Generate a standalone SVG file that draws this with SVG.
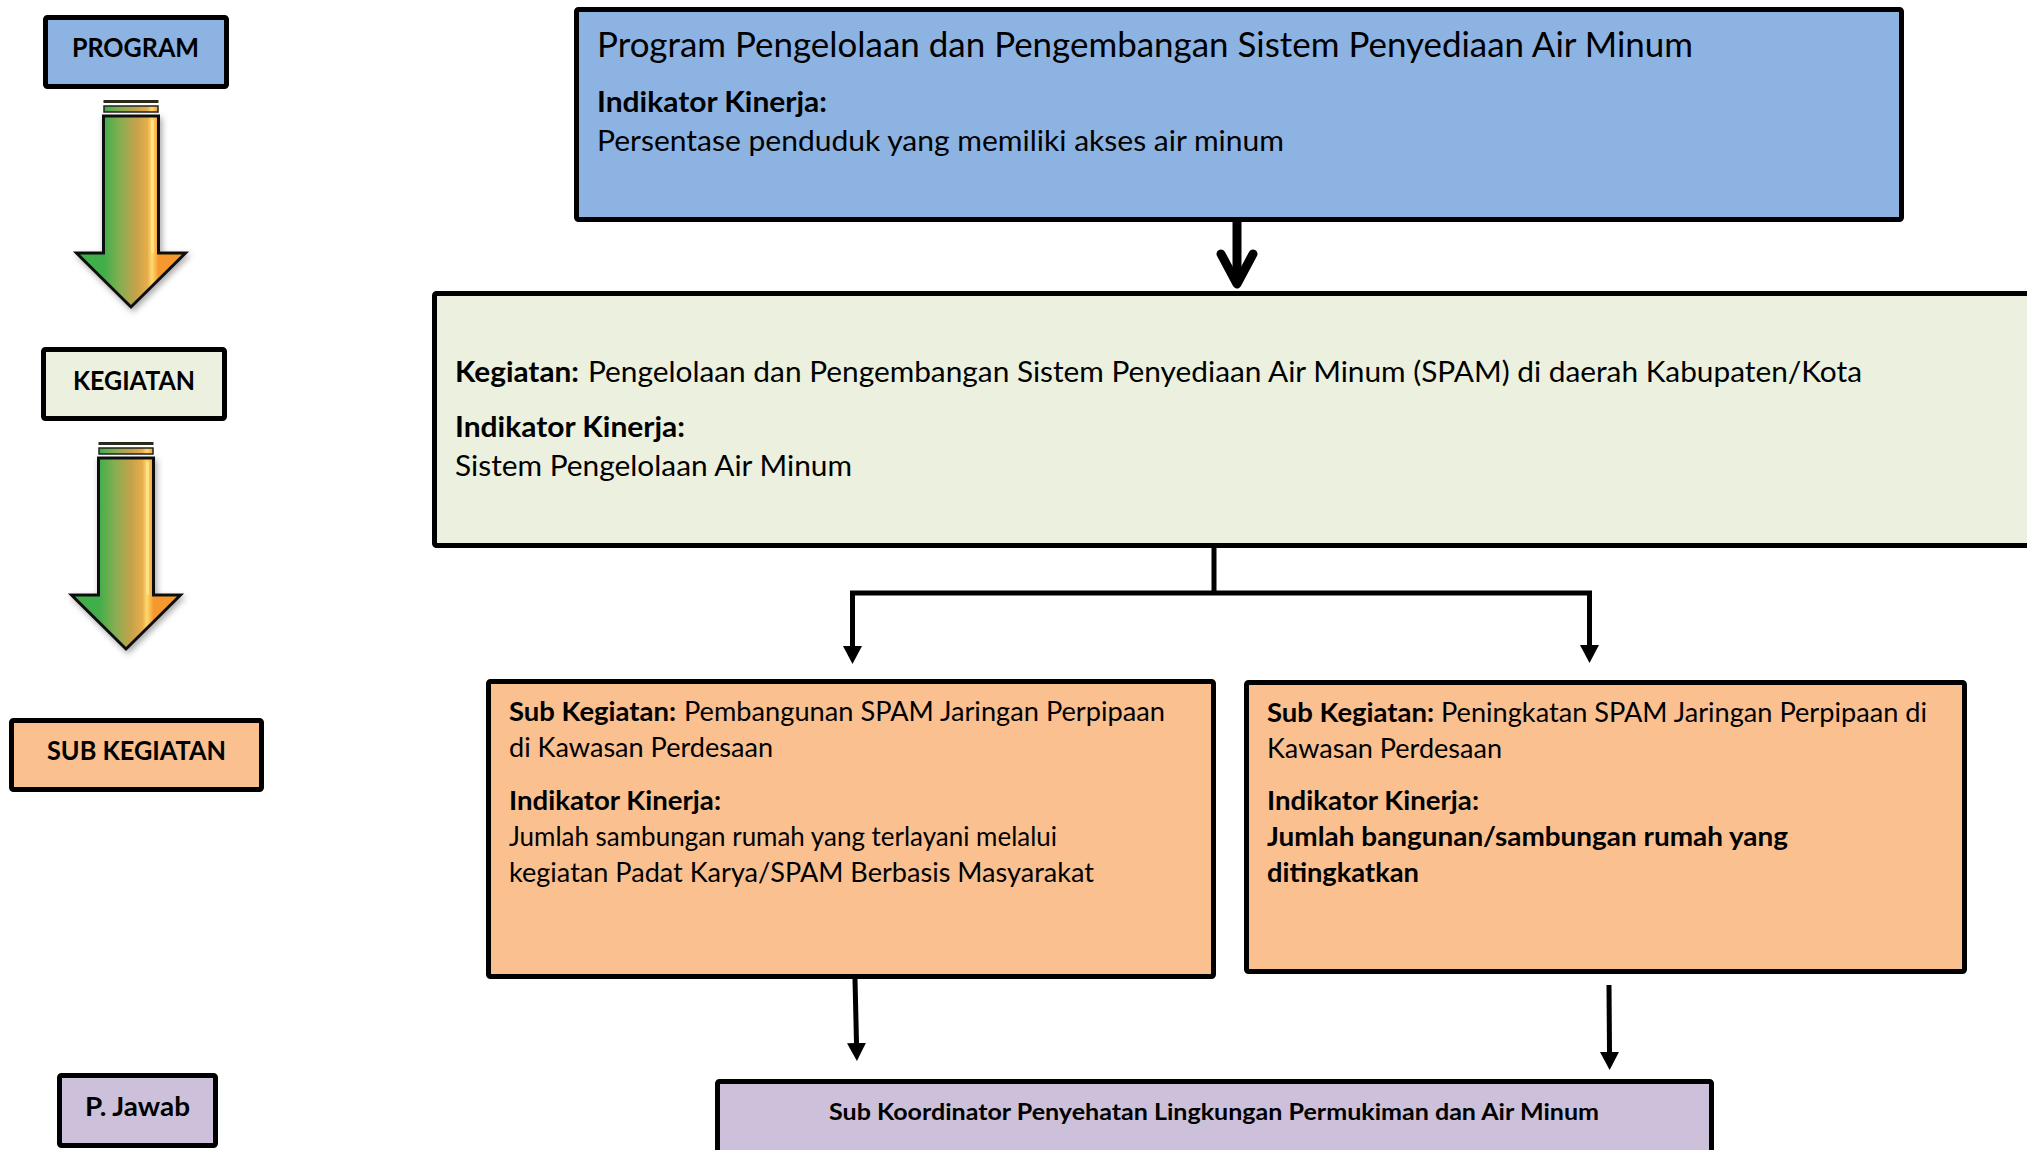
<svg xmlns="http://www.w3.org/2000/svg" width="2027" height="1150" viewBox="0 0 2027 1150">
<defs>
<style>
.box{stroke:#000;stroke-width:5;stroke-linejoin:round}
.blue{fill:#8DB3E2}.green{fill:#EBF1DE}.orange{fill:#FAC090}.purple{fill:#CCC0DA}
.t{font-family:Lato,"Open Sans",sans-serif;fill:#000}
.b{font-family:Lato,"Open Sans",sans-serif;font-weight:bold;fill:#000}
.con{fill:none;stroke:#000;stroke-width:5}
</style>
<linearGradient id="ag" gradientUnits="userSpaceOnUse" x1="0" y1="0" x2="55" y2="0">
<stop offset="0" stop-color="#3FAE4A"/>
<stop offset="0.3" stop-color="#86AE52"/>
<stop offset="0.6" stop-color="#C6A24B"/>
<stop offset="0.8" stop-color="#E7AE4C"/>
<stop offset="0.88" stop-color="#FFDA6E"/>
<stop offset="1" stop-color="#F5982F"/>
</linearGradient>
<filter id="sh" x="-30%" y="-10%" width="160%" height="130%">
<feDropShadow dx="2" dy="3" stdDeviation="3" flood-color="#000" flood-opacity="0.35"/>
</filter>
<marker id="ah" markerUnits="userSpaceOnUse" viewBox="0 0 18 19" refX="0" refY="9.5" markerWidth="18" markerHeight="19" orient="auto">
<path d="M0,0 L18,9.5 L0,19 z" fill="#000"/>
</marker>
<g id="bigArrow">
<rect x="0" y="0" width="55" height="3" fill="#2a2a1a"/>
<rect x="0.5" y="6" width="54" height="6" fill="url(#ag)" stroke="#222" stroke-width="1.5"/>
<path d="M0,16 H55 V153 H82 L27.5,207 L-27,153 H0 Z" fill="url(#ag)" stroke="#111" stroke-width="3" stroke-linejoin="miter" filter="url(#sh)"/>
<path d="M5,20 V153" stroke="#55B050" stroke-width="2" opacity="0.6"/>
<path d="M49,20 V153" stroke="#FFE58A" stroke-width="3" opacity="0.8"/>
</g>
</defs>

<g id="label-program">
<rect class="box blue" x="45.5" y="17.5" width="181" height="69" rx="2"/>
<text class="b" x="72" y="57" font-size="26" textLength="127" lengthAdjust="spacingAndGlyphs">PROGRAM</text>
</g>
<g id="arrow-program-kegiatan">
<use href="#bigArrow" transform="translate(103.5,100)"/>
</g>
<g id="label-kegiatan">
<rect class="box green" x="43.5" y="349.5" width="181" height="69" rx="2"/>
<text class="b" x="73" y="390" font-size="26" textLength="122" lengthAdjust="spacingAndGlyphs">KEGIATAN</text>
</g>
<g id="arrow-kegiatan-sub">
<use href="#bigArrow" transform="translate(98.5,442)"/>
</g>
<g id="label-subkegiatan">
<rect class="box orange" x="11.5" y="720.5" width="250" height="69" rx="2"/>
<text class="b" x="47" y="760" font-size="26" textLength="179" lengthAdjust="spacingAndGlyphs">SUB KEGIATAN</text>
</g>
<g id="label-pjawab">
<rect class="box purple" x="59.5" y="1075.5" width="156" height="70" rx="2"/>
<text class="b" x="85" y="1116" font-size="26" textLength="105" lengthAdjust="spacingAndGlyphs">P. Jawab</text>
</g>

<g id="program">
<rect class="box blue" x="576.5" y="9.5" width="1325" height="210" rx="2"/>
<text class="t" x="597" y="57" font-size="34" textLength="1096" lengthAdjust="spacingAndGlyphs">Program Pengelolaan dan Pengembangan Sistem Penyediaan Air Minum</text>
<text class="b" x="597" y="112" font-size="29" textLength="230" lengthAdjust="spacingAndGlyphs">Indikator Kinerja:</text>
<text class="t" x="597" y="151" font-size="29" textLength="687" lengthAdjust="spacingAndGlyphs">Persentase penduduk yang memiliki akses air minum</text>
</g>

<g id="kegiatan">
<rect class="box green" x="434.5" y="293.5" width="1620" height="252" rx="2"/>
<text class="b" x="455" y="382" font-size="29" textLength="124" lengthAdjust="spacingAndGlyphs">Kegiatan:</text>
<text class="t" x="588" y="382" font-size="29" textLength="1274" lengthAdjust="spacingAndGlyphs">Pengelolaan dan Pengembangan Sistem Penyediaan Air Minum (SPAM) di daerah Kabupaten/Kota</text>
<text class="b" x="455" y="437" font-size="29" textLength="230" lengthAdjust="spacingAndGlyphs">Indikator Kinerja:</text>
<text class="t" x="455" y="476" font-size="29" textLength="397" lengthAdjust="spacingAndGlyphs">Sistem Pengelolaan Air Minum</text>
</g>

<g id="sub1">
<rect class="box orange" x="488.5" y="681.5" width="725" height="295" rx="2"/>
<text class="b" x="509" y="721" font-size="27" textLength="167" lengthAdjust="spacingAndGlyphs">Sub Kegiatan:</text>
<text class="t" x="684" y="721" font-size="27" textLength="481" lengthAdjust="spacingAndGlyphs">Pembangunan SPAM Jaringan Perpipaan</text>
<text class="t" x="509" y="757" font-size="27" textLength="264" lengthAdjust="spacingAndGlyphs">di Kawasan Perdesaan</text>
<text class="b" x="509" y="810" font-size="27" textLength="212" lengthAdjust="spacingAndGlyphs">Indikator Kinerja:</text>
<text class="t" x="509" y="846" font-size="27" textLength="548" lengthAdjust="spacingAndGlyphs">Jumlah sambungan rumah yang terlayani melalui</text>
<text class="t" x="509" y="882" font-size="27" textLength="585" lengthAdjust="spacingAndGlyphs">kegiatan Padat Karya/SPAM Berbasis Masyarakat</text>
</g>

<g id="sub2">
<rect class="box orange" x="1246.5" y="682.5" width="718" height="289" rx="2"/>
<text class="b" x="1267" y="722" font-size="27" textLength="167" lengthAdjust="spacingAndGlyphs">Sub Kegiatan:</text>
<text class="t" x="1441" y="722" font-size="27" textLength="486" lengthAdjust="spacingAndGlyphs">Peningkatan SPAM Jaringan Perpipaan di</text>
<text class="t" x="1267" y="758" font-size="27" textLength="235" lengthAdjust="spacingAndGlyphs">Kawasan Perdesaan</text>
<text class="b" x="1267" y="810" font-size="27" textLength="212" lengthAdjust="spacingAndGlyphs">Indikator Kinerja:</text>
<text class="b" x="1267" y="846" font-size="27" textLength="521" lengthAdjust="spacingAndGlyphs">Jumlah bangunan/sambungan rumah yang</text>
<text class="b" x="1267" y="882" font-size="27" textLength="152" lengthAdjust="spacingAndGlyphs">ditingkatkan</text>
</g>

<g id="pjawab">
<rect class="box purple" x="717.5" y="1081.5" width="994" height="100" rx="2"/>
<text class="b" x="829" y="1120" font-size="23" textLength="770" lengthAdjust="spacingAndGlyphs">Sub Koordinator Penyehatan Lingkungan Permukiman dan Air Minum</text>
</g>

<g id="connectors">
<path d="M1237,222 V282" fill="none" stroke="#000" stroke-width="9"/>
<polyline points="1221,254 1237,284 1253,254" fill="none" stroke="#000" stroke-width="9" stroke-linecap="round" stroke-linejoin="round"/>
<path class="con" d="M1214,548 V593"/>
<path class="con" d="M1214,593 H852.5 V646" marker-end="url(#ah)"/>
<path class="con" d="M1214,593 H1589.5 V645" marker-end="url(#ah)"/>
<path class="con" d="M855,979 L856.5,1043" marker-end="url(#ah)"/>
<path class="con" d="M1609,985 L1609.5,1052" marker-end="url(#ah)"/>
</g>
</svg>
